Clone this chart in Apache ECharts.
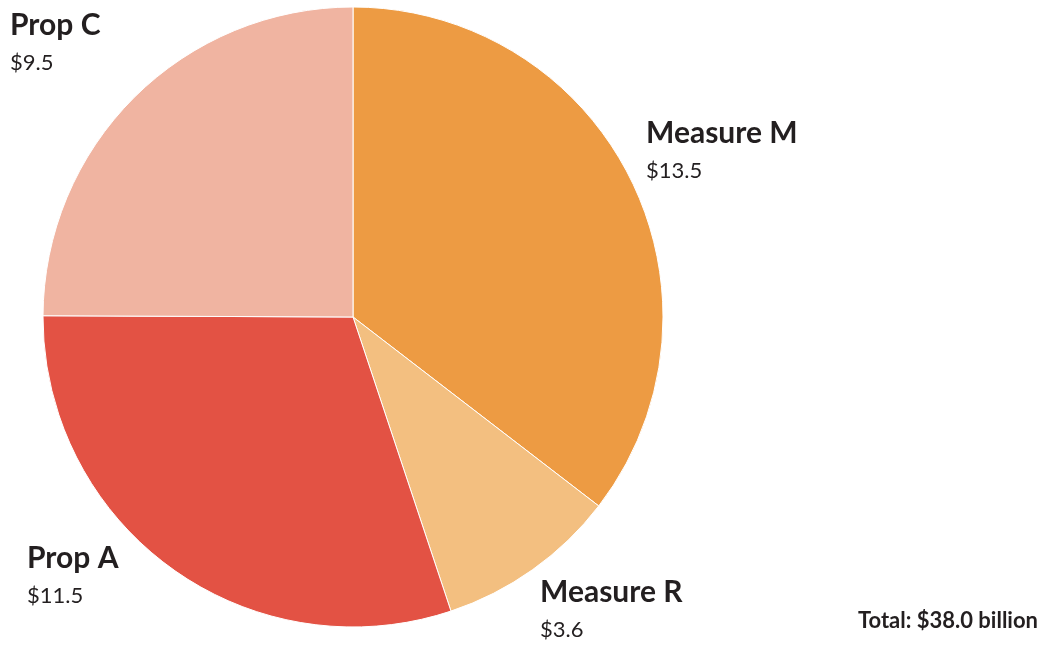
<!DOCTYPE html>
<html>
<head>
<meta charset="utf-8">
<script src="https://cdn.jsdelivr.net/npm/echarts@6/dist/echarts.min.js"></script>
<style>
  html, body { margin: 0; padding: 0; background: #fff; }
  #chart { width: 1059px; height: 646px; }
</style>
</head>
<body>
<div id="chart"></div>
<script>
// data (billions of dollars)
var names = ['Measure M', 'Measure R', 'Prop A', 'Prop C'];
var amounts = [13.5, 3.6, 11.5, 9.5];
var colors = ['#ed9b43', '#f3bf80', '#e35244', '#f0b4a1'];
var totalText = 'Total: $38.0 billion';

// where each label sits (top-left of the text block)
var labelPos = {
  'Measure M': [646, 115],
  'Measure R': [540, 574],
  'Prop A': [27, 540],
  'Prop C': [10, 7]
};

var chart = echarts.init(document.getElementById('chart'));

chart.setOption({
  animation: false,
  title: {
    text: totalText,
    right: 16,
    top: 605,
    textStyle: { fontFamily: 'Lato', fontWeight: 'bold', fontSize: 22, color: '#231f20' }
  },
  series: [{
    type: 'pie',
    center: [353, 317],
    radius: 310,
    startAngle: 90,
    clockwise: true,
    itemStyle: { borderColor: '#fff', borderWidth: 1 },
    labelLine: { show: false },
    label: {
      show: true,
      position: 'outside',
      overflow: 'none',
      width: 300,
      formatter: function (p) { return '{n|' + p.name + '}\n{v|$' + p.value.toFixed(1) + '}'; },
      rich: {
        n: { fontFamily: 'Lato', fontWeight: 'bold', fontSize: 30, color: '#231f20', lineHeight: 37 },
        v: { fontFamily: 'Lato', fontSize: 22, color: '#231f20', lineHeight: 37 }
      }
    },
    labelLayout: function (p) {
      var pos = labelPos[names[p.dataIndex]];
      return { x: pos[0], y: pos[1], align: 'left', verticalAlign: 'top' };
    },
    emphasis: { disabled: true },
    data: names.map(function (n, i) {
      return { name: n, value: amounts[i], itemStyle: { color: colors[i] } };
    })
  }]
});
</script>
</body>
</html>
